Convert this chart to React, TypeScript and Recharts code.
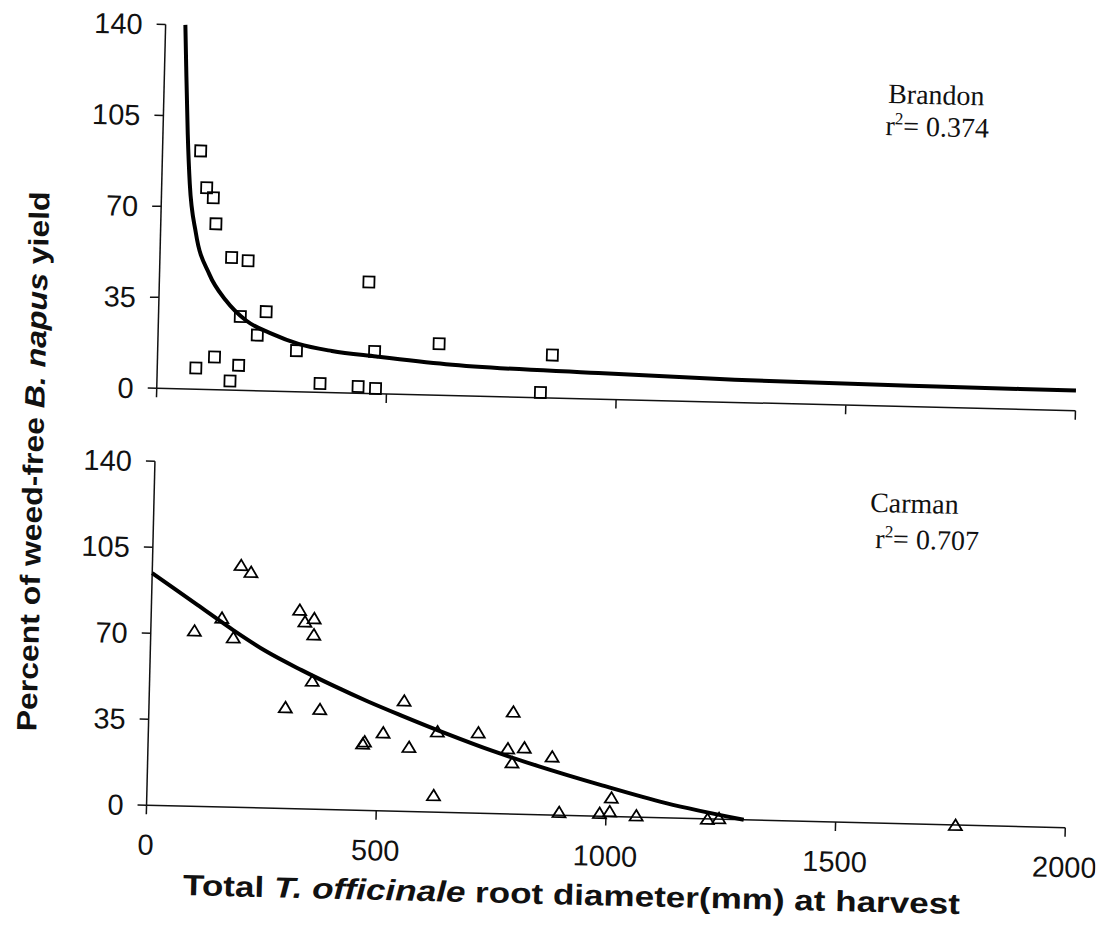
import React from "react";
import { ScatterChart, Scatter, XAxis, YAxis } from "recharts";

// shared axes
const X_TICKS = [0, 500, 1000, 1500, 2000];
const Y_TICKS = [0, 35, 70, 105, 140];

// Brandon: total root diameter (mm) vs % of weed-free yield
const brandonDiameter = [83, 98, 113, 120, 156, 192, 456, 234, 178, 216, 302, 472, 612, 124, 177, 84, 159, 355, 438, 476, 859, 835];
const brandonYield = [91.7, 77.6, 73.8, 63.8, 51, 49.9, 42.9, 30.5, 28.4, 21.4, 15.8, 16.2, 19.8, 12.6, 9.6, 8.2, 3.5, 3.4, 2.6, 2.0, 16.5, 2.0];

// Brandon fitted curve
const brandonFitDiameter = [43, 47, 54, 61, 77, 108, 146, 190, 248, 306, 379, 476, 628, 960, 1257, 1696, 2000];
const brandonFitYield = [140, 124, 98, 79, 60, 44.5, 34.4, 27, 22, 18.4, 16, 14.3, 12, 10, 8.7, 8, 7.8];

// Carman observations
const carmanDiameter = [95, 154, 180, 193, 215, 323, 335, 355, 355, 354, 297, 372, 467, 471, 511, 555, 568, 629, 624, 718, 793, 783, 819, 793, 880, 1011, 898, 986, 1008, 1066, 1221, 1246, 1761];
const carmanYield = [71.5, 77, 69.1, 98.6, 95.9, 81, 76.3, 77.7, 71.1, 52.3, 41.2, 40.8, 27.2, 28.1, 31.9, 45.1, 26.3, 32.9, 6.9, 32.9, 41.7, 26.7, 27.2, 21, 23.8, 7.7, 1.3, 1.3, 2.1, 0.7, 0, 0.4, 0];

// Carman fitted curve
const carmanFitDiameter = [0, 100, 180, 250, 330, 400, 475, 550, 650, 750, 850, 990, 1130, 1300];
const carmanFitYield = [94.5, 82, 72, 64, 56.5, 50.5, 44.5, 39, 32, 25.5, 19.8, 12.6, 6, 0];

const zip = (xs: number[], ys: number[]) => xs.map((x, i) => ({ x, y: ys[i] }));

const brandonPoints = zip(brandonDiameter, brandonYield);
const brandonFit = zip(brandonFitDiameter, brandonFitYield);
const carmanPoints = zip(carmanDiameter, carmanYield);
const carmanFit = zip(carmanFitDiameter, carmanFitYield);

const INK = "#111";
const TICK_FONT = { fontSize: 29, fill: INK, fontFamily: "'Liberation Sans', Arial, sans-serif" };

const SquareMark = (props: any) => {
  const { cx, cy } = props;
  return <rect x={cx - 5.5} y={cy - 5.5} width={11} height={11} fill="none" stroke="#000" strokeWidth={1.8} />;
};

const TriangleMark = (props: any) => {
  const { cx, cy } = props;
  return (
    <polygon
      points={`${cx},${cy - 5.5} ${cx - 6.5},${cy + 5} ${cx + 6.5},${cy + 5}`}
      fill="none"
      stroke="#000"
      strokeWidth={1.8}
    />
  );
};

const NoMark = () => <g />;

function Panel({ points, fit, shape, top, height, margin, xHeight, showXLabels }: any) {
  return (
    <div style={{ position: "absolute", left: 0, top }}>
      <ScatterChart width={1105} height={height} margin={margin}>
        <XAxis
          type="number"
          dataKey="x"
          domain={[0, 2000]}
          ticks={X_TICKS}
          height={xHeight}
          tickSize={9}
          tickMargin={20}
          tick={showXLabels ? TICK_FONT : NoMark}
          axisLine={{ stroke: INK, strokeWidth: 1.5 }}
          tickLine={{ stroke: INK, strokeWidth: 1.5 }}
        />
        <YAxis
          type="number"
          dataKey="y"
          domain={[0, 140]}
          ticks={Y_TICKS}
          width={100}
          tickSize={9}
          tickMargin={14}
          tick={TICK_FONT}
          axisLine={{ stroke: INK, strokeWidth: 1.5 }}
          tickLine={{ stroke: INK, strokeWidth: 1.5 }}
        />
        <Scatter
          data={fit}
          shape={NoMark}
          line={{ stroke: "#000", strokeWidth: 4 }}
          lineJointType="monotoneX"
          isAnimationActive={false}
        />
        <Scatter data={points} shape={shape} isAnimationActive={false} />
      </ScatterChart>
    </div>
  );
}

export default function App() {
  const serif = "'Liberation Serif', 'Times New Roman', serif";
  const sans = "'Liberation Sans Narrow', 'Liberation Sans', Arial, sans-serif";
  return (
    <div
      style={{
        position: "absolute",
        left: 0,
        top: 0,
        width: 1105,
        height: 928,
        background: "#fff",
        transform: "rotate(1.4deg)",
        transformOrigin: "552px 464px",
      }}
    >
      <Panel
        points={brandonPoints}
        fit={brandonFit}
        shape={SquareMark}
        top={0}
        height={430}
        margin={{ top: 34, right: 31, bottom: 2, left: 55 }}
        xHeight={30}
        showXLabels={false}
      />
      <Panel
        points={carmanPoints}
        fit={carmanFit}
        shape={TriangleMark}
        top={430}
        height={498}
        margin={{ top: 41, right: 31, bottom: 0, left: 55 }}
        xHeight={113}
        showXLabels={true}
      />
      <svg width={1105} height={928} style={{ position: "absolute", left: 0, top: 0, pointerEvents: "none" }}>
        <text x={879} y={95} fontFamily={serif} fontSize={28} fill={INK}>Brandon</text>
        <text x={877} y={127} fontFamily={serif} fontSize={28} fill={INK}>
          r<tspan dy={-11} fontSize={17}>2</tspan><tspan dy={11}>= 0.374</tspan>
        </text>
        <text x={871} y={504} fontFamily={serif} fontSize={28} fill={INK}>Carman</text>
        <text x={877} y={540} fontFamily={serif} fontSize={28} fill={INK}>
          r<tspan dy={-11} fontSize={17}>2</tspan><tspan dy={11}>= 0.707</tspan>
        </text>
        <text
          transform="translate(43,474) rotate(-90)"
          textAnchor="middle"
          fontFamily={sans}
          fontWeight="bold"
          fontSize={28}
          fill={INK}
          textLength={540}
          lengthAdjust="spacingAndGlyphs"
        >
          Percent of weed-free <tspan fontStyle="italic">B. napus</tspan> yield
        </text>
        <text
          x={582}
          y={904}
          textAnchor="middle"
          fontFamily={sans}
          fontWeight="bold"
          fontSize={29}
          fill={INK}
          textLength={777}
          lengthAdjust="spacingAndGlyphs"
        >
          Total <tspan fontStyle="italic">T. officinale</tspan>  root diameter(mm) at harvest
        </text>
      </svg>
    </div>
  );
}
